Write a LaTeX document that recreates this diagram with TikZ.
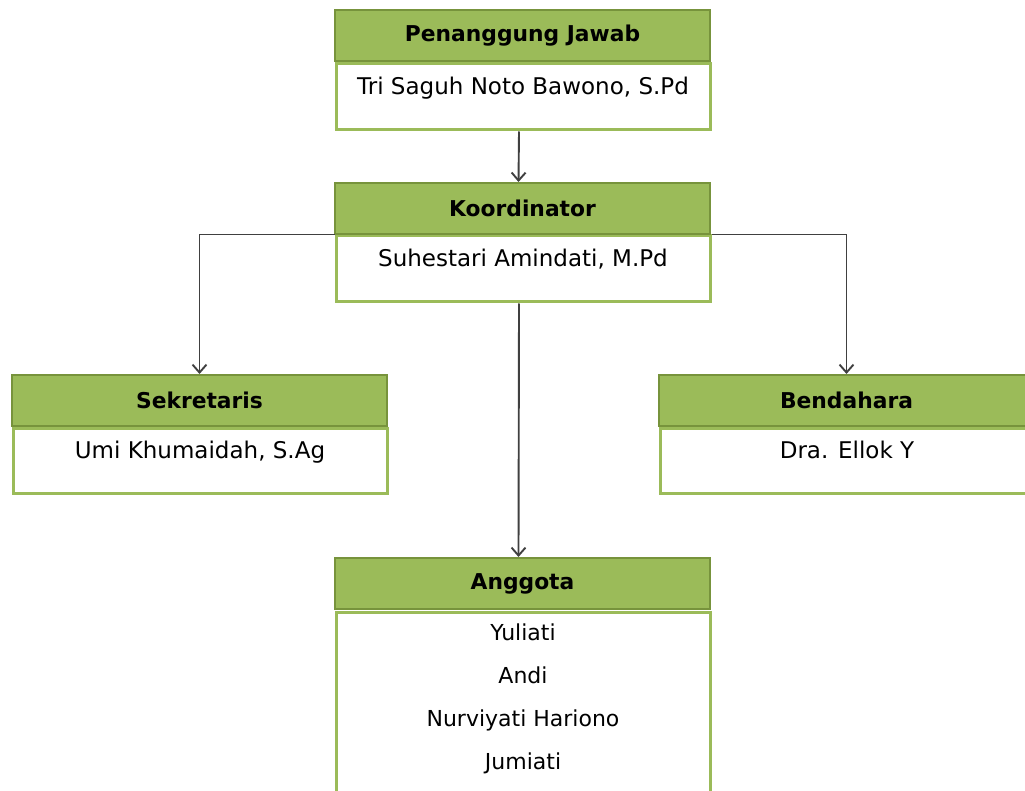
\documentclass[tikz,border=0pt]{standalone}
\usepackage{fontspec}
\setmainfont{DejaVu Sans}
\usetikzlibrary{arrows.meta}
\definecolor{hdr}{HTML}{9BBB59}
\definecolor{hdrline}{HTML}{77933C}
\definecolor{conn}{HTML}{404040}
\begin{document}
\begin{tikzpicture}[x=1pt,y=-1pt,
  head/.style={draw=hdrline, line width=2pt, fill=hdr, minimum width=375pt, minimum height=51pt,
    inner sep=0pt, anchor=north west, font=\bfseries\fontsize{21.8}{24}\selectfont},
  body/.style={draw=hdr, line width=3pt, fill=white, minimum width=374pt, inner sep=0pt,
    anchor=north west},
  btext/.style={anchor=base, yshift=-32pt, inner sep=0pt, font=\fontsize{23}{26}\selectfont},
  link/.style={draw=conn, line width=1.9pt, -{Straight Barb[length=8pt,width=14pt]}}]
\useasboundingbox (0,0) rectangle (1025,791);
\clip (0,0) rectangle (1025,791);
% Penanggung Jawab
\node[body, minimum height=66pt, label={[btext]north:Tri Saguh Noto Bawono, S.Pd}] (pjb) at (334.5,62.5) {};
\node[head] (pjh) at (334,9) {Penanggung Jawab};
% Koordinator
\node[body, minimum height=66pt, label={[btext]north:Suhestari Amindati, M.Pd}] (kb) at (334.5,234.5) {};
\node[head] (kh) at (334,182) {Koordinator};
% Sekretaris
\node[body, minimum height=65pt, label={[btext]north:Umi Khumaidah, S.Ag}] (sb) at (11.5,426.5) {};
\node[head] (sh) at (11,374) {Sekretaris};
% Bendahara
\node[body, minimum height=65pt, label={[btext]north:Dra. Ellok Y}] (bb) at (658.5,426.5) {};
\node[head] (bh) at (658,374) {Bendahara};
% Anggota
\node[body, minimum height=240pt,
  label={[anchor=north, yshift=-13pt, inner sep=0pt, align=center, font=\fontsize{22}{43}\selectfont]north:Yuliati\\Andi\\Nurviyati Hariono\\Jumiati}] (ab) at (334.5,610.5) {};
\node[head] (ah) at (334,557) {Anggota};
% connectors
\draw[link] ([xshift=-4pt]pjb.south) -- ([xshift=-4pt]kh.north);
\draw[link] (kb.north west) -| (sh.north);
\draw[link] (kb.north east) -| (bh.north);
\draw[link] ([xshift=-4pt]kb.south) -- ([xshift=-4pt]ah.north);
\end{tikzpicture}
\end{document}
